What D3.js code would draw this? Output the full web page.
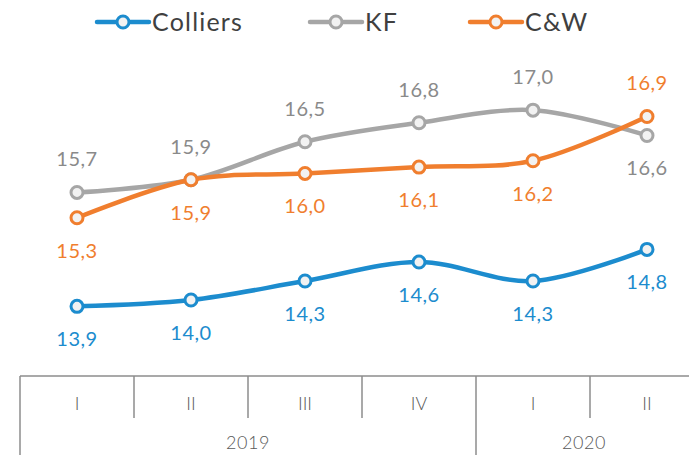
<!DOCTYPE html>
<html><head><meta charset="utf-8">
<script src="https://cdn.jsdelivr.net/npm/d3@7"></script>
<style>body{margin:0;background:#fff}svg{display:block}</style>
</head><body>
<svg id="c" width="689" height="455"></svg>
<script>
const quarters = ["I","II","III","IV","I","II"];
const years = ["2019","2020"];
const yearSpans = [4, 2];
const seriesNames = ["Colliers","KF","C&W"];
const colliers = [13.9, 14.0, 14.3, 14.6, 14.3, 14.8];
const kf = [15.7, 15.9, 16.5, 16.8, 17.0, 16.6];
const cw = [15.3, 15.9, 16.0, 16.1, 16.2, 16.9];
const colors = ["#1C8CCE", "#A6A6A6", "#F07E2E"];
const labelColors = ["#1C8CCE", "#8A8A8A", "#F07E2E"];
// label placement: +1 below, -1 above
const colliersPos = [1,1,1,1,1,1];
const kfPos = [-1,-1,-1,-1,-1,1];
const cwPos = [1,1,1,1,1,-1];

const svg = d3.select("#c");
const font = "Lato, 'Noto Sans', sans-serif";
const x = d3.scaleBand().domain(d3.range(quarters.length)).range([20, 704]).padding(0);
const y = d3.scaleLinear().domain([12.8, 18.74]).range([376, 0]);
const cx = i => x(i) + x.bandwidth()/2;

const data = [
  {name: seriesNames[0], vals: colliers, pos: colliersPos, c: colors[0], lc: labelColors[0]},
  {name: seriesNames[1], vals: kf, pos: kfPos, c: colors[1], lc: labelColors[1]},
  {name: seriesNames[2], vals: cw, pos: cwPos, c: colors[2], lc: labelColors[2]}
];
const line = d3.line().x((d,i)=>cx(i)).y(d=>y(d)).curve(d3.curveCatmullRom.alpha(0.5));
const fmt = v => d3.format(".1f")(v).replace(".", ",");

// axis
const ax = svg.append("g").attr("stroke", "#8C8C8C").attr("stroke-width", 1.5);
ax.append("line").attr("x1", 20).attr("x2", 689).attr("y1", 376).attr("y2", 376);
let acc = 0;
const yearBounds = [0];
yearSpans.forEach(s => { acc += s; yearBounds.push(acc); });
d3.range(quarters.length + 1).forEach(i => {
  const xx = i < quarters.length ? x(i) : 704;
  const isYear = yearBounds.includes(i);
  if (xx <= 689) ax.append("line").attr("x1", xx).attr("x2", xx).attr("y1", 376).attr("y2", isYear ? 455 : 418);
});
svg.selectAll(".q").data(quarters).join("text")
  .attr("x", (d,i)=>cx(i)).attr("y", 404).attr("dy", "0.35em")
  .attr("text-anchor","middle").attr("font-family", font).attr("font-size", 18)
  .attr("font-weight", 300).attr("fill","#595959").text(d=>d);
svg.selectAll(".yr").data(years).join("text")
  .attr("x", (d,i)=> { const a = x(yearBounds[i]); const b = yearBounds[i+1] < quarters.length ? x(yearBounds[i+1]) : 704; return (a+b)/2 - (i==1? 6:0); })
  .attr("y", 443).attr("dy","0.35em")
  .attr("text-anchor","middle").attr("font-family", font).attr("font-size", 18)
  .attr("font-weight", 300).attr("fill","#595959").attr("letter-spacing", 0.5).text(d=>d);

// lines: draw in order KF, C&W, Colliers
[1,2,0].forEach(k => {
  const s = data[k];
  svg.append("path").attr("d", line(s.vals)).attr("fill","none")
    .attr("stroke", s.c).attr("stroke-width", 4.5).attr("stroke-linecap","round");
  svg.append("g").selectAll("circle").data(s.vals).join("circle")
    .attr("cx", (d,i)=>cx(i)).attr("cy", d=>y(d)).attr("r", 6)
    .attr("fill", "#F2F2F2").attr("stroke", s.c).attr("stroke-width", 3);
});
data.forEach(s => {
  svg.append("g").selectAll("text").data(s.vals).join("text")
    .attr("x", (d,i)=>cx(i)).attr("y", (d,i)=>y(d) + s.pos[i]*33).attr("dy","0.35em")
    .attr("text-anchor","middle").attr("font-family", font).attr("font-size", 20)
    .attr("letter-spacing", 0.5)
    .attr("fill", s.lc).text(d=>fmt(d));
});

// legend
const legX = [97, 310, 470];
data.forEach((s,k) => {
  const g = svg.append("g").attr("transform", `translate(${legX[k]},22)`);
  g.append("line").attr("x1",0).attr("x2",52).attr("stroke", s.c).attr("stroke-width",4.5).attr("stroke-linecap","round");
  g.append("circle").attr("cx",26).attr("r",6).attr("fill","#F2F2F2").attr("stroke", s.c).attr("stroke-width",3);
  g.append("text").attr("x",55).attr("dy","0.35em").attr("font-family", font).attr("font-size",25)
    .attr("letter-spacing", 1.2)
    .attr("fill","#404040").text(s.name);
});
</script>
</body></html>
